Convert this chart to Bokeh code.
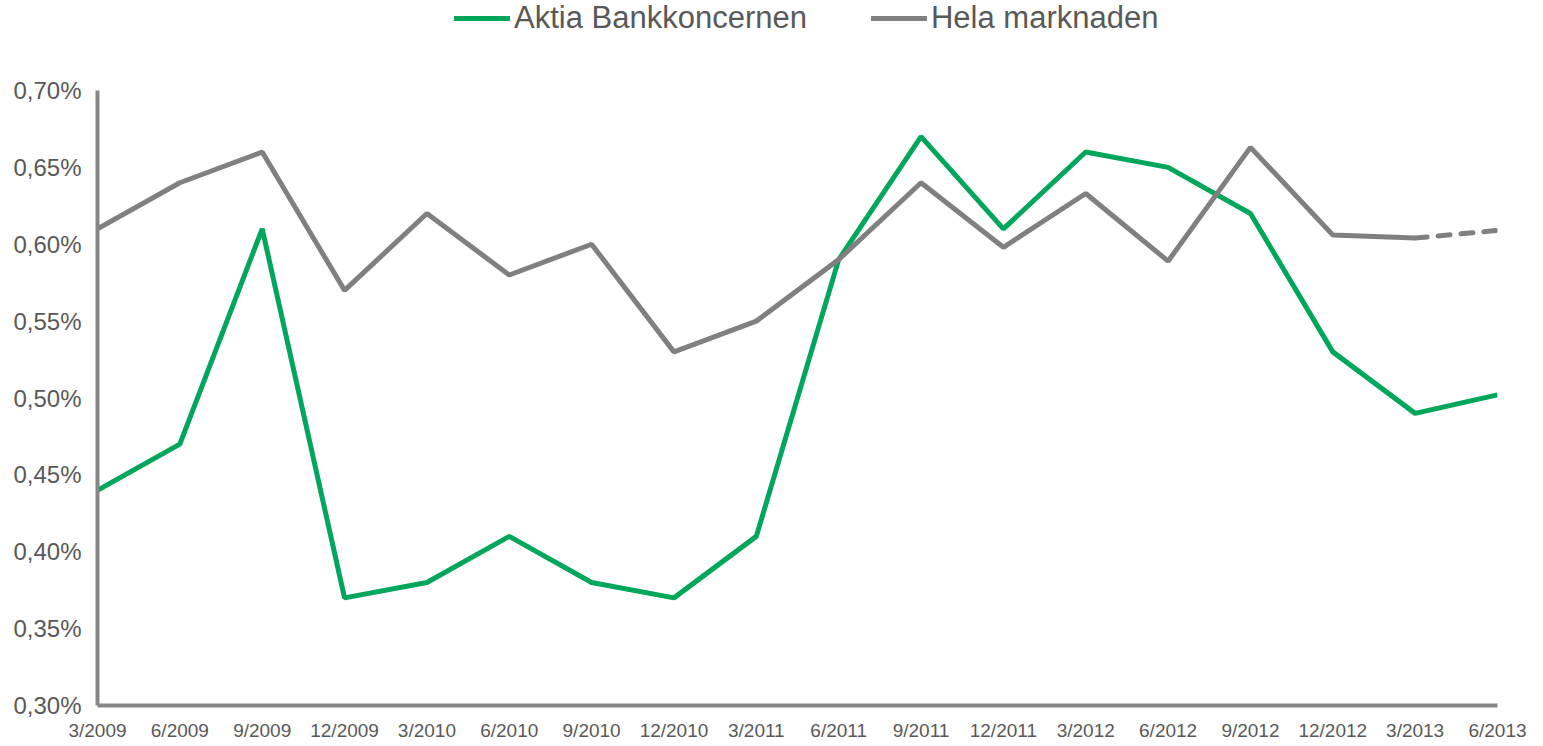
from bokeh.plotting import figure
from bokeh.layouts import column
from bokeh.models import FixedTicker, CustomJSTickFormatter, Legend, LegendItem, Range1d, ColumnDataSource
from bokeh.embed import file_html
from bokeh.resources import INLINE

categories = ["3/2009", "6/2009", "9/2009", "12/2009", "3/2010", "6/2010", "9/2010", "12/2010",
              "3/2011", "6/2011", "9/2011", "12/2011", "3/2012", "6/2012", "9/2012", "12/2012",
              "3/2013", "6/2013"]
aktia = [0.44, 0.47, 0.61, 0.37, 0.38, 0.41, 0.38, 0.37, 0.41, 0.59, 0.67, 0.61, 0.66, 0.65,
         0.62, 0.53, 0.49, 0.502]
hela = [0.61, 0.64, 0.66, 0.57, 0.62, 0.58, 0.60, 0.53, 0.55, 0.59, 0.64, 0.598, 0.633, 0.589,
        0.663, 0.606, 0.604, 0.609]
y_ticks = [0.30, 0.35, 0.40, 0.45, 0.50, 0.55, 0.60, 0.65, 0.70]
series_names = ["Aktia Bankkoncernen", "Hela marknaden"]

GREEN = "#00A65A"
GRAY = "#808080"
AXIS = "#868686"
TEXT = "#595959"
FONT = "Liberation Sans"

idx = list(range(len(categories)))

# ---- main chart ----
p = figure(frame_width=1400, frame_height=615, output_backend="svg", toolbar_location=None,
           x_range=Range1d(0, len(categories) - 1), y_range=Range1d(0.30, 0.70),
           min_border_left=97, min_border_right=30, min_border_top=20, min_border_bottom=30)
p.outline_line_color = None
p.xgrid.grid_line_color = None
p.ygrid.grid_line_color = None

src_a = ColumnDataSource(dict(x=idx, y=aktia))
src_h = ColumnDataSource(dict(x=idx[:-1], y=hela[:-1]))
src_hd = ColumnDataSource(dict(x=idx[-2:], y=hela[-2:]))

p.line("x", "y", source=src_a, line_color=GREEN, line_width=5)
p.line("x", "y", source=src_h, line_color=GRAY, line_width=5)
p.line("x", "y", source=src_hd, line_color=GRAY, line_width=5, line_dash="12 11", line_cap="round")

p.xaxis.ticker = FixedTicker(ticks=idx)
p.xaxis.major_label_overrides = {i: c for i, c in enumerate(categories)}
p.yaxis.ticker = FixedTicker(ticks=y_ticks)
p.yaxis.formatter = CustomJSTickFormatter(code="return tick.toFixed(2).replace('.', ',') + '%';")

for ax in (p.xaxis[0], p.yaxis[0]):
    ax.axis_line_color = AXIS
    ax.axis_line_width = 4
    ax.major_tick_line_color = None
    ax.minor_tick_line_color = None
    ax.major_label_text_color = TEXT
    ax.major_label_text_font = FONT
p.yaxis.major_label_text_font_size = "24px"
p.yaxis.major_label_standoff = 10
p.xaxis.major_label_text_font_size = "19px"
p.xaxis.major_label_standoff = 8

# ---- legend strip ----
lg = figure(frame_width=1527, frame_height=70, output_backend="svg", toolbar_location=None,
            x_range=Range1d(0, 1), y_range=Range1d(0, 1), x_axis_type=None, y_axis_type=None,
            min_border_left=0, min_border_right=0, min_border_top=0, min_border_bottom=0)
lg.outline_line_color = None
lg.xgrid.grid_line_color = None
lg.ygrid.grid_line_color = None
la = lg.line(x=[5, 6], y=[5, 6], line_color=GREEN, line_width=5, line_cap="round")
lh = lg.line(x=[5, 6], y=[5, 6], line_color=GRAY, line_width=5, line_cap="round")
legend = Legend(items=[LegendItem(label=series_names[0], renderers=[la]),
                       LegendItem(label=series_names[1], renderers=[lh])],
                orientation="horizontal", location=(454, 34),
                label_text_font=FONT, label_text_font_size="31px", label_text_color=TEXT,
                glyph_width=56, glyph_height=30, label_standoff=4, spacing=64,
                padding=0, margin=0, border_line_alpha=0, background_fill_alpha=0)
lg.add_layout(legend, "center")

layout = column(lg, p, spacing=0)
open("out.html", "w").write(file_html(layout, INLINE))
